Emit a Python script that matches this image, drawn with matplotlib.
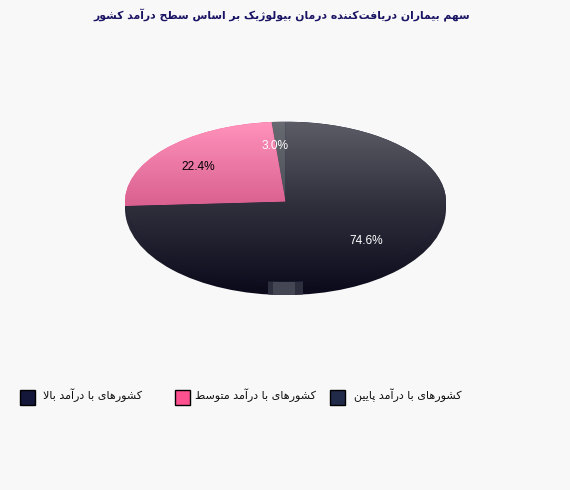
import numpy as np
import matplotlib
matplotlib.use('Agg')
import matplotlib.pyplot as plt
from matplotlib.patches import Ellipse, Rectangle

W, H = 570, 490

title = 'سهم بیماران دریافت\u200cکننده درمان بیولوژیک بر اساس سطح درآمد کشور'
categories = ['کشورهای با درآمد پایین', 'کشورهای با درآمد متوسط', 'کشورهای با درآمد بالا']
shares = [3.0, 22.4, 74.6]
legend_colors = ['#222a4a', '#ff5090', '#14163a']
label_colors = ['white', 'black', 'white']

# vertical gradients of the slices, (pixel y, colour)
slice_stops = [
    [(122, '#686a72'), (202, '#4c4e57')],
    [(122, '#ff92bb'), (205, '#d9608f')],
    [(122, '#5c5c66'), (205, '#2f2f3c'), (290, '#0b0b1c')],
]

# the tilted 3D pie narrows the slices near the top, this squeezes the angles the same way
TILT = 0.46

# matplotlib has no text shaping, so pick the presentation forms by hand
DUAL = {'ب': 0xFE8F, 'ت': 0xFE95, 'ح': 0xFEA1, 'س': 0xFEB1, 'ش': 0xFEB5, 'ط': 0xFEC1,
        'ف': 0xFED1, 'ل': 0xFEDD, 'م': 0xFEE1, 'ن': 0xFEE5, 'ه': 0xFEE9,
        'پ': 0xFB56, 'ک': 0xFB8E, 'ی': 0xFBFC}
RIGHT = {'ا': 0xFE8D, 'آ': 0xFE81, 'د': 0xFEA9, 'ر': 0xFEAD, 'و': 0xFEED, 'ژ': 0xFB8A}


def shape(text):
    out = []
    i = 0
    while i < len(text):
        c = text[i]
        prev = text[i - 1] if i > 0 else ''
        nxt = text[i + 1] if i + 1 < len(text) else ''
        joins_prev = prev in DUAL
        if c == 'ل' and nxt == 'ا':
            out.append(chr(0xFEFC if joins_prev else 0xFEFB))
            i += 2
            continue
        if c in RIGHT:
            out.append(chr(RIGHT[c] + (1 if joins_prev else 0)))
        elif c in DUAL:
            joins_next = nxt in DUAL or nxt in RIGHT
            form = (2 if joins_next else 0) + (1 if joins_prev else 0)
            # isolated, final, initial, medial
            out.append(chr(DUAL[c] + form))
        elif c != '\u200c':
            out.append(c)
        i += 1
    return ''.join(out)[::-1]


def gradient(stops, y0, y1):
    ys = np.arange(y0, y1)
    pos = [s[0] for s in stops]
    rgb = np.array([matplotlib.colors.to_rgb(s[1]) for s in stops])
    img = np.stack([np.interp(ys, pos, rgb[:, k]) for k in range(3)], axis=1)
    return img[:, None, :]


def squeeze(theta):
    # theta is in degrees, counted from the x axis, the top of the pie stays fixed
    phi = np.radians(theta - 90)
    return 90 + np.degrees(np.arctan2(TILT * np.sin(phi), np.cos(phi))) % 360


fig = plt.figure(figsize=(W / 100, H / 100), dpi=100, facecolor='#f8f8f8')

# page axes in pixels: the pie's lower rim, the legend and the title
page = fig.add_axes([0, 0, 1, 1])
page.set_xlim(0, W)
page.set_ylim(H, 0)
page.axis('off')

rim = Ellipse((285.5, 208.5), 321, 173, fc='none', ec='none')
page.add_patch(rim)
im = page.imshow(gradient(slice_stops[2], 122, 296), extent=(125, 446, 296, 122), aspect='auto')
im.set_clip_path(rim)
outer = Rectangle((268, 281), 35, 15, fc='#2e2f3e', ec='none', zorder=3)
inner = Rectangle((273, 281), 22, 15, fc='#454654', ec='none', zorder=4)
page.add_patch(outer)
page.add_patch(inner)
outer.set_clip_path(rim)
inner.set_clip_path(rim)
page.set_xlim(0, W)
page.set_ylim(H, 0)

page.text(282, 15, shape(title), ha='center', va='center', fontsize=7.85,
          fontweight='bold', color='#1a1464', family='DejaVu Sans')

swatch_x = [330, 175, 20]
text_right = [462, 316, 142]
for cat, col, sx, tx in zip(categories, legend_colors, swatch_x, text_right):
    page.add_patch(Rectangle((sx, 390), 15, 15, fc=col, ec='black', lw=1))
    page.text(tx, 395, shape(cat), ha='right', va='center', fontsize=8.0,
              color='#111111', family='DejaVu Sans')

# pie itself, squashed by letting the axes keep a free aspect
cx, cy, rx, ry = 285.5, 201.7, 160.5, 80
ax = fig.add_axes([(cx - rx) / W, 1 - (cy + ry) / H, 2 * rx / W, 2 * ry / H])
ax.patch.set_alpha(0)
wedges, _, pcts = ax.pie(shares, colors=legend_colors, startangle=90, counterclock=True,
                         radius=1, autopct='%.1f%%', pctdistance=0.7,
                         wedgeprops={'linewidth': 0},
                         textprops={'fontsize': 8.6, 'family': 'Liberation Sans'})
ax.set_aspect('auto')
y_top, y_bottom = int(cy - ry), int(cy + ry)
for n, (wedge, stops, txt, col) in enumerate(zip(wedges, slice_stops, pcts, label_colors)):
    # the last slice closes the circle at the top again, so it keeps its end angle
    wedge.set_theta1(squeeze(wedge.theta1))
    if n < len(wedges) - 1:
        wedge.set_theta2(squeeze(wedge.theta2))
    img = ax.imshow(gradient(stops, y_top, y_bottom), extent=(-1, 1, -1, 1), aspect='auto', zorder=2)
    img.set_clip_path(wedge)
    txt.set_color(col)
    txt.set_zorder(5)
ax.set_xlim(-1, 1)
ax.set_ylim(-1, 1)
ax.set_aspect('auto')
ax.axis('off')

fig.savefig('out.png', dpi=100, facecolor=fig.get_facecolor())
